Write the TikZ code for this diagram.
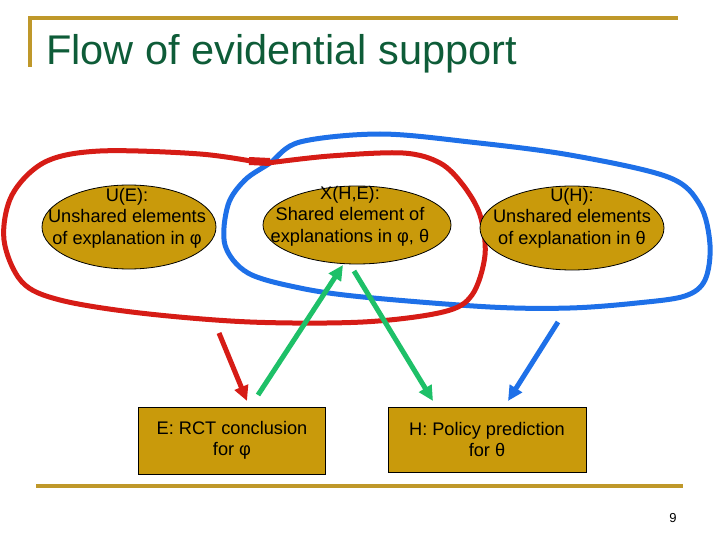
\documentclass[tikz,border=0pt]{standalone}
\usepackage{fontspec}
\setmainfont{Liberation Sans}
\usetikzlibrary{shapes.geometric,arrows.meta}
\definecolor{gold}{RGB}{191,152,42}
\definecolor{fillgold}{RGB}{201,154,11}
\definecolor{titlegreen}{RGB}{14,92,56}
\definecolor{loopred}{RGB}{214,28,22}
\definecolor{loopblue}{RGB}{30,112,232}
\definecolor{arrowgreen}{RGB}{30,192,104}
\tikzset{
  rule/.style={draw=gold,line width=3.2pt},
  elem/.style={ellipse,draw=black,line width=0.8pt,fill=fillgold,inner sep=0pt},
  concl/.style={rectangle,draw=black,line width=1pt,fill=fillgold,inner sep=0pt},
  txt/.style={align=center,font=\fontsize{18.2}{21.5}\selectfont,inner sep=0pt},
  loopline/.style={line width=5pt,line join=round,line cap=round},
  flow/.style={line width=5pt,-{Triangle[length=15pt,width=14pt]}}
}
\begin{document}
\begin{tikzpicture}[x=1pt,y=-1pt]
\useasboundingbox (0,0) rectangle (720,540);
% header and footer rules
\draw[rule] (30,67) -- (30,18) -- (678,18);
\draw[rule] (36,486) -- (683,486);
\node[anchor=base west,inner sep=0pt,text=titlegreen,font=\fontsize{41.5}{45}\selectfont] (title) at (46,65) {Flow of evidential support};
\node[anchor=base,inner sep=0pt,font=\fontsize{13}{15}\selectfont] (pagenum) at (673,522) {9};
% blue loop
\draw[loopline,loopblue] plot[smooth cycle,tension=0.55] coordinates {
  (270,163) (300,142) (380,134) (470,142) (570,155) (668,177) (700,205) (710,245)
  (705,280) (685,296) (637,303) (570,308) (490,307) (363,297) (300,288) (248,273)
  (225,245) (228,205) (245,180)};
% red loop
\draw[loopline,loopred] plot[smooth,tension=0.55] coordinates {
  (262,163) (200,154) (100,151) (45,162) (12,195) (4,240) (22,282) (60,300)
  (140,313) (250,322) (363,322) (443,312) (472,295) (485,255) (480,215)
  (463,185) (440,163) (403,153) (330,156) (268,163)};
\draw[loopred,line width=8pt] (249,161) -- (270,162);
% ellipses
\node[elem,minimum width=174pt,minimum height=84pt] (UE) at (129,227) {};
\node[elem,minimum width=188pt,minimum height=78pt] (XHE) at (357,225) {};
\node[elem,minimum width=184pt,minimum height=84pt] (UH) at (572,228) {};
\node[txt] (UEt) at (127,218) {U(E):\\Unshared elements\\of explanation in φ};
\node[txt] (XHEt) at (350,216) {X(H,E):\\Shared element of\\explanations in φ, θ};
\node[txt] (UHt) at (572,218) {U(H):\\Unshared elements\\of explanation in θ};
% conclusion boxes
\node[concl,minimum width=187pt,minimum height=67pt] (E) at (231.5,440.5) {};
\node[concl,minimum width=198pt,minimum height=65pt] (H) at (487,439.5) {};
\node[txt] (Et) at (232,440.5) {E: RCT conclusion\\for φ};
\node[txt] (Ht) at (487,439.5) {H: Policy prediction\\for θ};
% arrows
\coordinate (r1) at (219,333);
\coordinate (r2) at (247,401);
\coordinate (g1) at (258,395);
\coordinate (g2) at (343,265);
\coordinate (g3) at (354,271);
\coordinate (g4) at (433,401);
\coordinate (b1) at (558,322);
\coordinate (b2) at (508,401);
\draw[flow,loopred] (r1) -- (r2);
\draw[flow,arrowgreen] (g1) -- (g2);
\draw[flow,arrowgreen] (g3) -- (g4);
\draw[flow,loopblue] (b1) -- (b2);
\end{tikzpicture}
\end{document}
